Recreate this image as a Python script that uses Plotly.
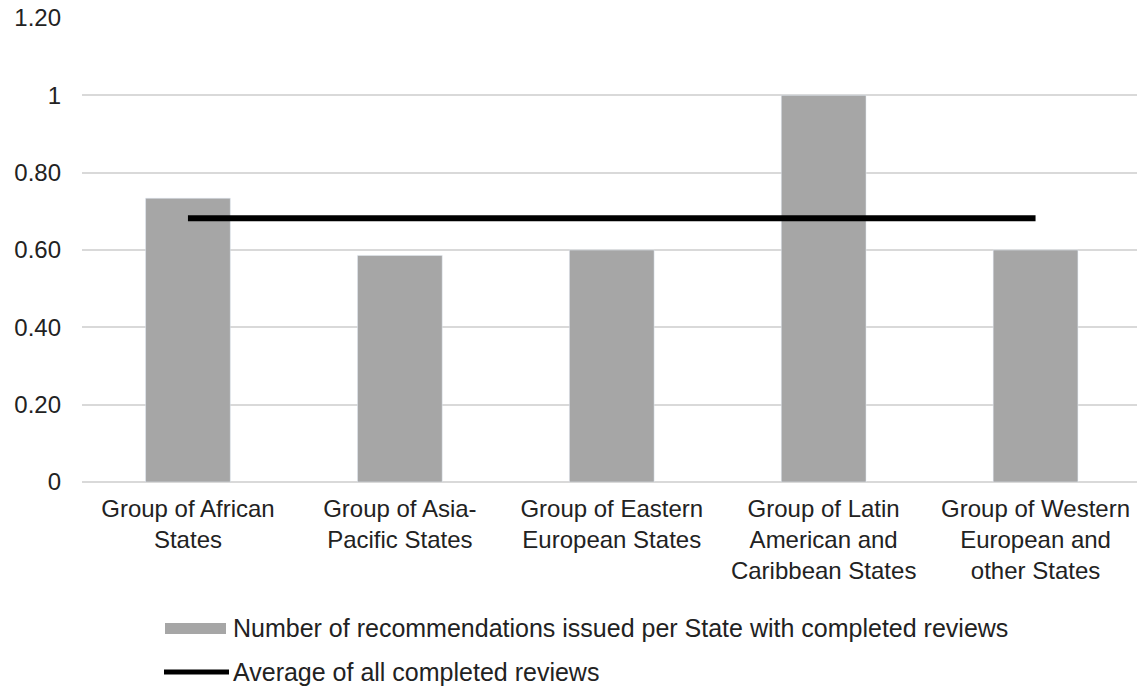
import plotly.graph_objects as go

categories = [
    "Group of African<br>States",
    "Group of Asia-<br>Pacific States",
    "Group of Eastern<br>European States",
    "Group of Latin<br>American and<br>Caribbean States",
    "Group of Western<br>European and<br>other States",
]
recs_per_state = [0.734, 0.586, 0.60, 1.0, 0.60]
average_all = 0.682
tick_vals = [0, 0.2, 0.4, 0.6, 0.8, 1.0, 1.2]
tick_text = ["0", "0.20", "0.40", "0.60", "0.80", "1", "1.20"]
legend_bar = "Number of recommendations issued per State with completed reviews"
legend_line = "Average of all completed reviews"

FONT = "Liberation Sans, Arial, sans-serif"
TXT = "#222222"
GRID = "#d9d9d9"
BAR = "#a6a6a6"

W, H = 1137, 687
ML, MR, MT, MB = 82, 0, 18, 205
PW = W - ML - MR
PH = H - MT - MB

xi = list(range(len(categories)))

fig = go.Figure()
fig.add_trace(go.Bar(x=xi, y=recs_per_state, marker_color=BAR, width=0.4,
                     showlegend=False, hoverinfo="y"))
fig.add_trace(go.Scatter(x=[xi[0], xi[-1]], y=[average_all, average_all], mode="lines",
                         line=dict(color="black", width=6), showlegend=False))

def px_x(px):
    return (px - ML) / PW

def px_y(py):
    return (MT + PH - py) / PH

# custom legend
fig.add_shape(type="rect", xref="paper", yref="paper",
              x0=px_x(165), x1=px_x(226), y0=px_y(634), y1=px_y(623),
              fillcolor=BAR, line=dict(width=0))
fig.add_shape(type="line", xref="paper", yref="paper",
              x0=px_x(164), x1=px_x(229), y0=px_y(672), y1=px_y(672),
              line=dict(color="black", width=5))
fig.add_annotation(xref="paper", yref="paper", x=px_x(231), y=px_y(628),
                   text=legend_bar, showarrow=False, xanchor="left", yanchor="middle",
                   font=dict(family=FONT, size=25, color=TXT))
fig.add_annotation(xref="paper", yref="paper", x=px_x(231), y=px_y(672),
                   text=legend_line, showarrow=False, xanchor="left", yanchor="middle",
                   font=dict(family=FONT, size=25, color=TXT))

fig.update_layout(
    width=W, height=H,
    margin=dict(l=ML, r=MR, t=MT, b=MB),
    plot_bgcolor="white", paper_bgcolor="white",
    font=dict(family=FONT, color=TXT),
    bargap=0.6,
)
fig.update_xaxes(
    tickvals=xi, ticktext=categories, range=[-0.5, -0.5 + PW / 211.9],
    showgrid=False, showline=False, zeroline=False, ticks="",
    tickfont=dict(family=FONT, size=24, color=TXT), ticklabelstandoff=10,
)
fig.update_yaxes(
    range=[0, 1.2], tickvals=tick_vals, ticktext=tick_text,
    showgrid=True, gridcolor=GRID, gridwidth=2,
    zeroline=True, zerolinecolor=GRID, zerolinewidth=2,
    showline=False, ticks="",
    tickfont=dict(family=FONT, size=24, color=TXT), ticklabelstandoff=20,
)

fig.write_html("out.html")
